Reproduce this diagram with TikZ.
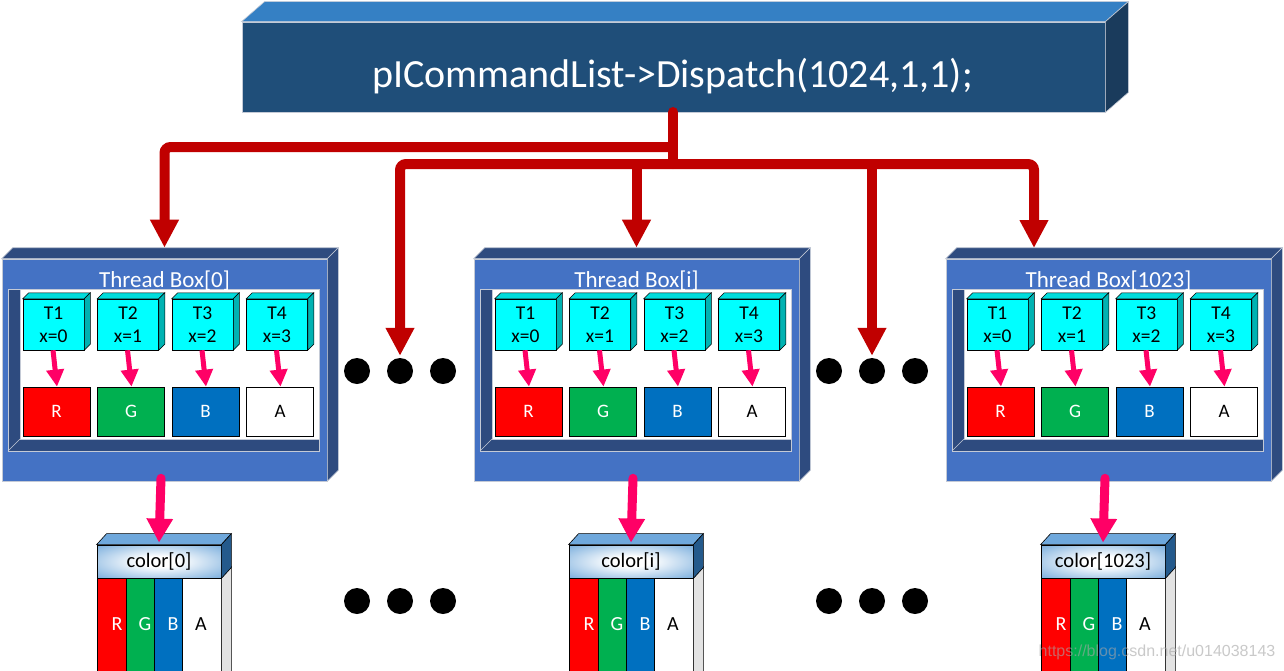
\documentclass[tikz,border=0pt]{standalone}
\usepackage{fontspec}
\setmainfont{Carlito}
\newfontfamily\wmfont{Liberation Sans}
\usetikzlibrary{arrows.meta}
\definecolor{cmdfront}{HTML}{1F4E79}
\definecolor{cmdtop}{HTML}{3580C4}
\definecolor{cmdside}{HTML}{1A3B5C}
\definecolor{tbblue}{HTML}{4472C4}
\definecolor{tbdark}{HTML}{2E4B7F}
\definecolor{edgegrey}{HTML}{C4CAD6}
\definecolor{cyfront}{HTML}{00FFFF}
\definecolor{cytop}{HTML}{00DCDC}
\definecolor{cyside}{HTML}{00B2B2}
\definecolor{cred}{HTML}{FF0000}
\definecolor{cgreen}{HTML}{00B050}
\definecolor{cblue}{HTML}{0070C0}
\definecolor{darkred}{HTML}{C00000}
\definecolor{hotpk}{HTML}{FF0066}
\definecolor{hdrblue}{HTML}{5B9BD5}
\definecolor{hdrtop}{HTML}{6FA8DC}
\definecolor{hdrside}{HTML}{245A8C}
\definecolor{bodyside}{HTML}{E3E3E3}
\pgfdeclareradialshading{hdrshade}{\pgfpoint{0bp}{0bp}}{color(0bp)=(white); color(8bp)=(white); color(42bp)=(hdrblue); color(75bp)=(hdrblue)}

\tikzset{
 tbfrontst/.style={draw=edgegrey, line width=0.6pt, fill=tbblue, minimum width=325pt, minimum height=222pt, inner sep=0},
 cyst/.style={draw=black, line width=0.5pt, fill=cyfront, minimum width=61pt, minimum height=51pt, inner sep=0},
 colst/.style={draw=black, line width=0.8pt, minimum height=112pt, inner sep=0},
 dotst/.style={circle, fill=black, minimum size=26pt, inner sep=0},
 pinkarrow/.style={hotpk, line width=5pt, -{Triangle[width=17pt,length=17pt]}},
 bigpink/.style={hotpk, line width=9pt, line cap=round, -{Triangle[width=25pt,length=24pt]}},
 redarrow/.style={darkred, line width=10pt, rounded corners=6pt, -{Triangle[width=27pt,length=28pt]}},
}

\newcommand\threadbox[3]{%
\begin{scope}[xshift=#1pt]
 \node[tbfrontst] (tb#2) at (164.5,370) {};
 \filldraw[fill=tbdark, draw=edgegrey, line width=0.6pt] (tb#2.north west) -- ++(11,-11) -- ([shift={(11,-11)}]tb#2.north east) -- (tb#2.north east) -- cycle;
 \filldraw[fill=tbdark, draw=edgegrey, line width=0.6pt] (tb#2.north east) -- ++(11,-11) -- ([shift={(11,-11)}]tb#2.south east) -- (tb#2.south east) -- cycle;
 \filldraw[fill=tbdark, draw=edgegrey, line width=0.6pt] (8,289) rectangle (319,451);
 \filldraw[fill=white, draw=edgegrey, line width=0.6pt] (20,289) rectangle (319,439);
 \draw[edgegrey, line width=0.6pt] (8,451) -- (20,439);
 \node[anchor=base, text=white, font=\fontsize{23}{28}\selectfont, inner sep=0] (tt#2) at (164.5,287) {#3};
 \foreach \k/\col/\txt/\tc [count=\n] in {0/cred/R/white, 1/cgreen/G/white, 2/cblue/B/white, 3/white/A/black} {
   \node[cyst] (cy#2\n) at ({53.5+74.5*\k},324.5) {};
   \filldraw[fill=cytop, draw=black, line width=0.5pt] (cy#2\n.north west) -- ++(6,-6) -- ([shift={(6,-6)}]cy#2\n.north east) -- (cy#2\n.north east) -- cycle;
   \filldraw[fill=cyside, draw=black, line width=0.5pt] (cy#2\n.north east) -- ++(6,-6) -- ([shift={(6,-6)}]cy#2\n.south east) -- (cy#2\n.south east) -- cycle;
   \node[anchor=base, font=\fontsize{19.5}{23}\selectfont, inner sep=0] (ct#2\n) at ({53.5+74.5*\k},319) {T\n};
   \node[anchor=base, font=\fontsize{19.5}{23}\selectfont, inner sep=0] (cx#2\n) at ({53.5+74.5*\k},342) {x=\k};
   \node[draw=black, line width=0.8pt, fill=\col, minimum width=67pt, minimum height=49pt, inner sep=0, text=\tc, font=\fontsize{19}{23}\selectfont] (rg#2\n) at ({56.5+74.5*\k},411.5) {\txt};
   \draw[pinkarrow] ([xshift=-0.5pt]cy#2\n.south) -- ([xshift=0.5pt]rg#2\n.north);
 }
\end{scope}}

\newcommand\colbox[3]{%
\begin{scope}[xshift=#1pt]
 \node[colst, fill=cred, minimum width=29pt] (cr#2) at (111.5,634) {};
 \node[colst, fill=cgreen, minimum width=28pt] (cg#2) at (140,634) {};
 \node[colst, fill=cblue, minimum width=28pt] (cb#2) at (168,634) {};
 \node[colst, fill=white, minimum width=39pt] (ca#2) at (201.5,634) {};
 \filldraw[fill=bodyside, draw=black, line width=0.6pt] (ca#2.north east) -- ++(10,-11) -- ([shift={(10,-11)}]ca#2.south east) -- (ca#2.south east) -- cycle;
 \node[font=\fontsize{20}{24}\selectfont, text=white, inner sep=0] (lr#2) at (117,624) {R};
 \node[font=\fontsize{20}{24}\selectfont, text=white, inner sep=0] (lg#2) at (145,624) {G};
 \node[font=\fontsize{20}{24}\selectfont, text=white, inner sep=0] (lb#2) at (173,624) {B};
 \node[font=\fontsize{20}{24}\selectfont, text=black, inner sep=0] (la#2) at (201,624) {A};
 \node[draw=black, line width=0.8pt, shading=hdrshade, minimum width=124pt, minimum height=33pt, inner sep=0, font=\fontsize{20.5}{24}\selectfont] (hd#2) at (159,561.5) {#3};
 \filldraw[fill=hdrtop, draw=black, line width=0.6pt] (hd#2.north west) -- ++(10,-11) -- ([shift={(10,-11)}]hd#2.north east) -- (hd#2.north east) -- cycle;
 \filldraw[fill=hdrside, draw=black, line width=0.6pt] (hd#2.north east) -- ++(10,-11) -- ([shift={(10,-11)}]hd#2.south east) -- (hd#2.south east) -- cycle;
\end{scope}}

\begin{document}
\begin{tikzpicture}[x=1pt,y=-1pt]
\clip (0,0) rectangle (1284,670);
\fill[white] (0,0) rectangle (1284,670);

% command box
\node[draw=edgegrey, line width=0.8pt, fill=cmdfront, minimum width=863pt, minimum height=90pt, inner sep=0] (cmd) at (673.5,67) {};
\filldraw[fill=cmdtop, draw=edgegrey, line width=0.6pt] (cmd.north west) -- ++(23,-20) -- ([shift={(23,-20)}]cmd.north east) -- (cmd.north east) -- cycle;
\filldraw[fill=cmdside, draw=edgegrey, line width=0.6pt] (cmd.north east) -- ++(23,-20) -- ([shift={(23,-20)}]cmd.south east) -- (cmd.south east) -- cycle;
\node[anchor=base, text=white, font=\fontsize{40}{48}\selectfont, inner sep=0] (cmdtext) at (672.5,87) {pICommandList->Dispatch(1024,1,1);};

% thread boxes
\threadbox{0}{0}{Thread Box[0]}
\threadbox{472}{i}{Thread Box[i]}
\threadbox{944}{1023}{Thread Box[1023]}

% colour boxes
\colbox{0}{0}{color[0]}
\colbox{472}{i}{color[i]}
\colbox{944}{1023}{color[1023]}

% dots
\node[dotst] (d1) at (357,371) {};
\node[dotst] (d2) at (400,371) {};
\node[dotst] (d3) at (443,371) {};
\node[dotst] (d4) at (829,371) {};
\node[dotst] (d5) at (872,371) {};
\node[dotst] (d6) at (915,371) {};
\node[dotst] (e1) at (357,601) {};
\node[dotst] (e2) at (400,601) {};
\node[dotst] (e3) at (443,601) {};
\node[dotst] (e4) at (829,601) {};
\node[dotst] (e5) at (872,601) {};
\node[dotst] (e6) at (915,601) {};

% red dispatch connectors
\coordinate (trunkTop) at (673,112);
\coordinate (trunkA) at (673,147);
\coordinate (junction) at (673,164);
\coordinate (a1023) at (1034,248);
\draw[darkred, line width=10pt, line cap=round] (trunkTop) -- (junction);
\draw[redarrow] (trunkA) -| ([yshift=11pt]tb0.north);
\draw[redarrow, {Triangle[width=27pt,length=28pt]}-{Triangle[width=27pt,length=28pt]}] ([yshift=2pt]d2.north) |- (junction) -| (a1023);
\draw[redarrow] (tbi.north |- junction) -- ([yshift=11pt]tbi.north);
\draw[redarrow] (d5.north |- junction) -- ([yshift=2pt]d5.north);

% pink output arrows
\draw[bigpink] ([shift={(-3.5,-3)}]tb0.south) -- ([yshift=2pt]hd0.north);
\draw[bigpink] ([shift={(-3.5,-3)}]tbi.south) -- ([yshift=2pt]hdi.north);
\draw[bigpink] ([shift={(-3.5,-3)}]tb1023.south) -- ([yshift=2pt]hd1023.north);

% watermark
\node[font=\wmfont\fontsize{16}{19}\selectfont, text=gray!70, text opacity=0.6, inner sep=0] (wm) at (1157,652) {https://blog.csdn.net/u014038143};
\end{tikzpicture}
\end{document}
